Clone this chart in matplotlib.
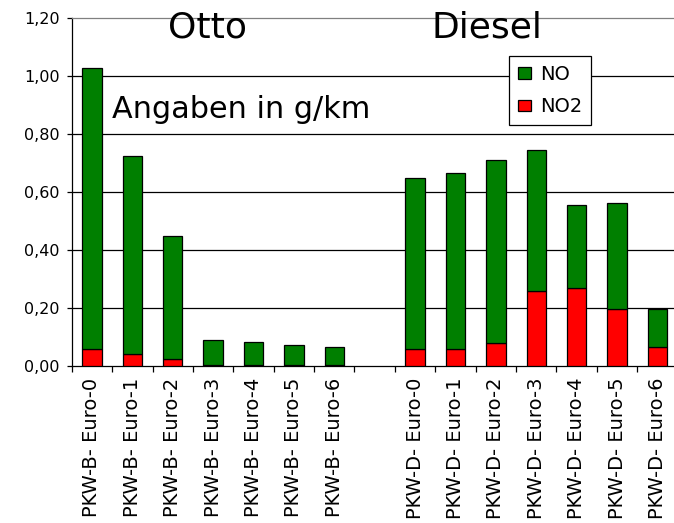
import numpy as np
import matplotlib
matplotlib.use("Agg")
import matplotlib.pyplot as plt

plt.rcParams['font.family'] = ['DejaVu Sans']

# NOx emissions per vehicle class, g/km
categories = [
    "PKW-B- Euro-0", "PKW-B- Euro-1", "PKW-B- Euro-2", "PKW-B- Euro-3",
    "PKW-B- Euro-4", "PKW-B- Euro-5", "PKW-B- Euro-6", "",
    "PKW-D- Euro-0", "PKW-D- Euro-1", "PKW-D- Euro-2", "PKW-D- Euro-3",
    "PKW-D- Euro-4", "PKW-D- Euro-5", "PKW-D- Euro-6",
]
no2 = [0.058, 0.041, 0.024, 0.003, 0.003, 0.003, 0.003, 0.0,
       0.058, 0.058, 0.081, 0.259, 0.270, 0.196, 0.064]
no = [0.970, 0.684, 0.426, 0.087, 0.080, 0.070, 0.062, 0.0,
      0.590, 0.608, 0.630, 0.487, 0.287, 0.366, 0.134]
y_ticks = [0.0, 0.2, 0.4, 0.6, 0.8, 1.0, 1.2]

GREEN = "#007f00"
RED = "#ff0000"

fig = plt.figure(figsize=(6.74, 5.23), dpi=100)
ax = fig.add_axes([0.1064, 0.3002, 0.899, 0.665])

x = np.arange(len(categories))
# skip the empty slot between the two groups
mask = np.array([c != "" for c in categories])
xs = x[mask]
no2_v = np.array(no2)[mask]
no_v = np.array(no)[mask]

b1 = ax.bar(xs, no2_v, width=0.48, color=RED, edgecolor="black", linewidth=0.9, zorder=3, label="NO2")
b2 = ax.bar(xs, no_v, width=0.48, bottom=no2_v, color=GREEN, edgecolor="black", linewidth=0.9, zorder=3, label="NO")

ax.set_xlim(-0.5, len(categories) - 0.5)
ax.set_ylim(0, 1.2)

ax.set_yticks(y_ticks)
ax.set_yticklabels([f"{v:.2f}".replace(".", ",") for v in y_ticks], fontsize=11.5)
ax.tick_params(axis="y", direction="out", length=3.6, width=0.9, pad=5)

ax.set_xticks(x)
ax.set_xticklabels(categories, rotation=90, fontsize=14)
ax.tick_params(axis="x", which="major", length=0, pad=8.5)
ax.set_xticks(np.arange(len(categories) + 1) - 0.5, minor=True)
ax.tick_params(axis="x", which="minor", direction="out", length=4.3, width=0.9)

# horizontal gridlines behind the bars
for v in y_ticks[1:-1]:
    ax.axhline(v, color="black", linewidth=0.9, zorder=1)

ax.spines["right"].set_visible(False)
ax.spines["top"].set_color("#808080")
ax.spines["top"].set_linewidth(0.9)
ax.spines["left"].set_linewidth(0.9)
ax.spines["bottom"].set_linewidth(0.9)

leg = ax.legend([b2, b1], ["NO", "NO2"], loc="upper left",
                bbox_to_anchor=(509 / 674, 1 - 56 / 523), bbox_transform=fig.transFigure,
                fontsize=14, frameon=True, fancybox=False, shadow=False,
                borderaxespad=0, borderpad=0.45, labelspacing=0.7,
                handlelength=0.7, handleheight=0.55, handletextpad=0.45)
leg.get_frame().set_edgecolor("black")
leg.get_frame().set_linewidth(0.9)
leg.get_frame().set_facecolor("white")
leg.get_frame().set_alpha(1)
leg.set_zorder(5)

fig.text(208 / 674, 1 - 37 / 523, "Otto", fontsize=26, ha="center", va="baseline")
fig.text(487 / 674, 1 - 37 / 523, "Diesel", fontsize=26, ha="center", va="baseline")
fig.text(112 / 674, 1 - 118 / 523, "Angaben in g/km", fontsize=21.8, ha="left", va="baseline")

fig.savefig("out.png", dpi=100)
